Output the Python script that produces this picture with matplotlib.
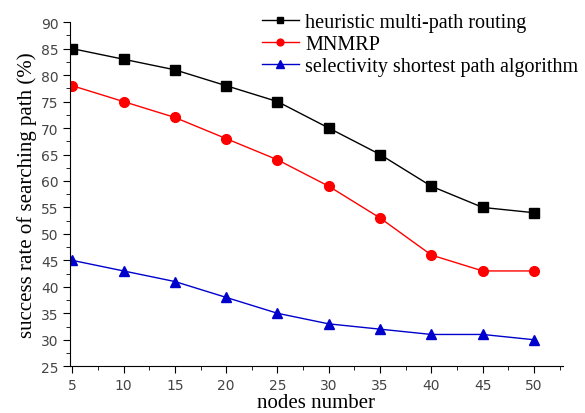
import matplotlib
matplotlib.use("Agg")
import matplotlib.pyplot as plt
from matplotlib.ticker import MultipleLocator

nodes = [5, 10, 15, 20, 25, 30, 35, 40, 45, 50]
heuristic = [85, 83, 81, 78, 75, 70, 65, 59, 55, 54]
mnmrp = [78, 75, 72, 68, 64, 59, 53, 46, 43, 43]
selective = [45, 43, 41, 38, 35, 33, 32, 31, 31, 30]

fig = plt.figure(figsize=(5.85, 4.14), dpi=100)
ax = fig.add_axes([0.12, 0.113, 0.842, 0.831])

ax.plot(nodes, heuristic, color="black", marker="s", markersize=6.5, lw=1,
        label="heuristic multi-path routing")
ax.plot(nodes, mnmrp, color="red", marker="o", markersize=7, lw=1,
        label="MNMRP")
ax.plot(nodes, selective, color="#0000cc", marker="^", markersize=7.5, lw=1,
        label="selectivity shortest path algorithm")

ax.set_xlim(4.8, 52.8)
ax.set_ylim(25, 90)
ax.xaxis.set_major_locator(MultipleLocator(5))
ax.xaxis.set_minor_locator(MultipleLocator(2.5))
ax.yaxis.set_major_locator(MultipleLocator(5))
ax.yaxis.set_minor_locator(MultipleLocator(2.5))
ax.spines["top"].set_visible(False)
ax.spines["right"].set_visible(False)
ax.tick_params(which="major", direction="out", length=5, labelsize=10)
ax.tick_params(which="minor", direction="out", length=3)
for lab in ax.get_xticklabels() + ax.get_yticklabels():
    lab.set_family("DejaVu Sans")
    lab.set_color("#444444")

ax.set_xlabel("nodes number", family="Liberation Serif", fontsize=15, labelpad=1)
ax.set_ylabel("success rate of searching path (%)", family="Liberation Serif", fontsize=15, labelpad=3)

leg = ax.legend(loc="upper right", bbox_to_anchor=(1.068, 1.08), frameon=False,
                prop={"family": "Liberation Serif", "size": 14.5}, handlelength=1.85,
                handletextpad=0.3, labelspacing=0.15, markerscale=0.7)

fig.savefig("out.png", dpi=100)
